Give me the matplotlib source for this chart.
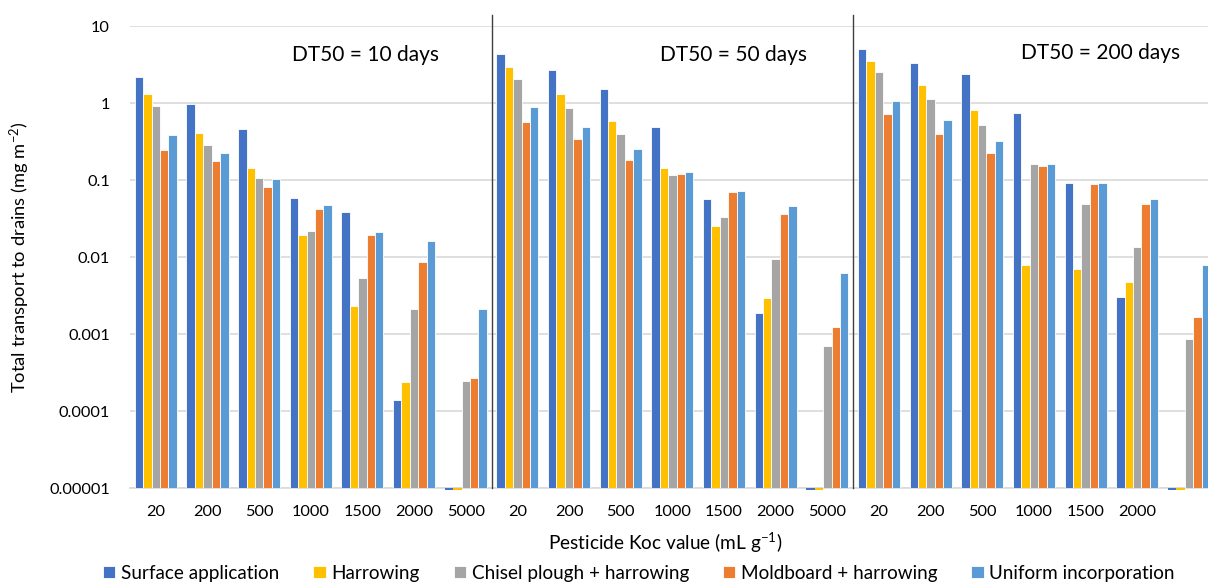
import matplotlib
matplotlib.use('Agg')
import numpy as np
import matplotlib.pyplot as plt

# ---- data ----
koc_labels = ["20", "200", "500", "1000", "1500", "2000", "5000",
              "20", "200", "500", "1000", "1500", "2000", "5000",
              "20", "200", "500", "1000", "1500", "2000", ""]
group_titles = ["DT50 = 10 days", "DT50 = 50 days", "DT50 = 200 days"]

surface = [2.18, 0.97, 0.459, 0.0578, 0.0384, 0.000138, 0,
           4.29, 2.71, 1.51, 0.493, 0.0571, 0.00188, 0,
           4.97, 3.34, 2.36, 0.741, 0.0923, 0.00303, 0]
harrowing = [1.32, 0.41, 0.145, 0.0193, 0.00233, 0.00024, 0,
             2.9, 1.31, 0.59, 0.142, 0.0253, 0.00291, 0,
             3.47, 1.70, 0.803, 0.00787, 0.00698, 0.00469, 0]
chisel = [0.905, 0.282, 0.106, 0.0218, 0.00533, 0.00209, 0.000248,
          2.07, 0.861, 0.392, 0.116, 0.0328, 0.00953, 0.000698,
          2.53, 1.12, 0.513, 0.163, 0.0483, 0.0134, 0.00086]
moldboard = [0.243, 0.175, 0.080, 0.042, 0.0195, 0.0087, 0.000268,
             0.566, 0.337, 0.184, 0.121, 0.0692, 0.0358, 0.00122,
             0.713, 0.395, 0.222, 0.151, 0.0895, 0.0483, 0.00166]
uniform = [0.388, 0.224, 0.103, 0.0473, 0.0213, 0.0161, 0.00209,
           0.879, 0.493, 0.255, 0.128, 0.0726, 0.0455, 0.0062,
           1.07, 0.596, 0.318, 0.162, 0.0913, 0.0566, 0.00787]

series_names = ["Surface application", "Harrowing", "Chisel plough + harrowing",
                "Moldboard + harrowing", "Uniform incorporation"]
series_vals = [surface, harrowing, chisel, moldboard, uniform]
colors = ["#4472C4", "#FFC000", "#A5A5A5", "#ED7D31", "#5B9BD5"]

# ---- style ----
plt.rcParams['font.family'] = ['Lato', 'DejaVu Sans']
plt.rcParams['mathtext.fontset'] = 'custom'
plt.rcParams['mathtext.rm'] = 'Lato'
plt.rcParams['mathtext.it'] = 'Lato:italic'

W, H = 1208, 583
fig = plt.figure(figsize=(W / 100, H / 100), dpi=100)
left, right, top, bottom = 130, 1214.7, 26, 488
ax = fig.add_axes([left / W, 1 - bottom / H, (right - left) / W, (bottom - top) / H])

ymin = 1e-5
n = len(koc_labels)
x = np.arange(n) + 0.5
bw = 0.163

for k, (name, vals, c) in enumerate(zip(series_names, series_vals, colors)):
    v = np.array(vals, dtype=float)
    xs = x + (k - 2) * bw
    pos = v > 0
    ax.bar(xs[pos], v[pos] - ymin, bottom=ymin, width=bw, color=c,
           edgecolor='white', linewidth=0.6, label=name, zorder=3)
    # zero values: Excel draws a tiny dash under the axis
    if (~pos).any():
        ax.bar(xs[~pos], -0.06e-5, bottom=ymin, width=bw, color=c,
               edgecolor='none', clip_on=False, zorder=3)

ax.set_yscale('log')
ax.set_ylim(ymin, 10)
ax.set_xlim(0, n)
ax.set_yticks([1e-5, 1e-4, 1e-3, 1e-2, 1e-1, 1, 10])
ax.set_yticklabels(["0.00001", "0.0001", "0.001", "0.01", "0.1", "1", "10"])
ax.minorticks_off()
ax.set_xticks(x)
ax.set_xticklabels(koc_labels)
ax.tick_params(axis='both', length=0, labelsize=11.8, colors='#000000')
ax.tick_params(axis='x', pad=12)
ax.tick_params(axis='y', pad=14.5)
ax.grid(axis='y', color='#D9D9D9', linewidth=1.2, zorder=0)
for s in ['left', 'right', 'top']:
    ax.spines[s].set_visible(False)
ax.spines['bottom'].set_color('#D9D9D9')
ax.spines['bottom'].set_linewidth(1.2)

# group separators
for g in [7, 14]:
    ax.axvline(g, ymin=0, ymax=(bottom - 15) / (bottom - top), color='#404040',
               linewidth=1.0, clip_on=False, zorder=4)

# group titles
title_x = [365, 733, 1101]
title_y = [55, 55, 53]
for tx, ty, t in zip(title_x, title_y, group_titles):
    fig.text(tx / W, 1 - ty / H, t, ha='center', va='center', fontsize=15)

ax.set_ylabel(r"Total transport to drains (mg m$^{-2}$)", fontsize=13.2)
ax.yaxis.set_label_coords(-(130 - 32) / (right - left), 0.5)
fig.text(665 / W, 1 - 543 / H, r"Pesticide Koc value (mL g$^{-1}$)",
         ha='center', va='center', fontsize=13.7)

fig.legend(loc='center', bbox_to_anchor=(639 / W, 1 - 573 / H), ncol=5,
           frameon=False, fontsize=13.6, handlelength=0.65, handleheight=0.65,
           handletextpad=0.3, columnspacing=1.8)

fig.savefig("out.png", dpi=100)
